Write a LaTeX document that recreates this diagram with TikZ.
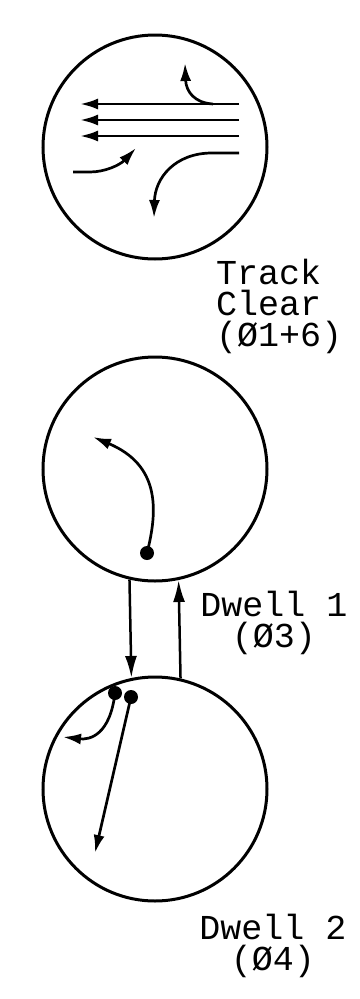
\documentclass[tikz,border=0pt]{standalone}
\usepackage{fontspec}
\newfontfamily\plotfont{Liberation Mono}
\usetikzlibrary{arrows.meta}
\begin{document}
\begin{tikzpicture}[x=1pt,y=-1pt,
  ring/.style={draw,circle,line width=3pt,minimum size=224pt,inner sep=0pt},
  flow/.style={line width=2.7pt,-{Latex[length=18pt,width=11pt]}},
  link/.style={line width=2.5pt,-{Latex[length=22pt,width=12pt]}},
  lbl/.style={inner sep=0pt,font=\plotfont\fontsize{35}{31}\selectfont},
  dot/.style={fill,circle,inner sep=0pt,minimum size=14pt}]
\useasboundingbox (0,0) rectangle (359,999);
% circles
\node[ring] (c1) at (155,147) {};
\node[ring] (c2) at (155,469) {};
\node[ring] (c3) at (155,789) {};
% circle 1 contents
\draw[flow] (239,104) -- (80,104);
\draw[flow] (239,120) -- (80,120);
\draw[flow] (239,136) -- (80,136);
\draw[flow] (213,104) .. controls (195,103) and (186,92) .. (185,63);
\draw[flow] (239,153) -- (212,153) .. controls (175,153) and (155,178) .. (154,218);
\draw[flow] (73,172) -- (90,172) .. controls (105,172) and (120,165) .. (136,148);
% circle 2 contents
\node[dot] (d1) at (147,553) {};
\draw[flow] (d1.center) .. controls (158,510) and (160,465) .. (93,437);
% circle 3 contents
\node[dot] (d2) at (115,693) {};
\node[dot] (d3) at (131,697) {};
\draw[flow] (d2.center) .. controls (110,735) and (90,740) .. (63,737);
\draw[flow] (d3.center) -- (95,853);
% links
\draw[link] (c2.257.6) -- (c3.102.4);
\draw[link] (c3.77.6) -- (c2.282.4);
% labels
\node[lbl,align=left,anchor=base west] (t1) at (216,346) {Track\\Clear\\(Ø1+6)};
\node[lbl,align=center,anchor=base] (u1) at (274,647) {Dwell 1\\(Ø3)};
\node[lbl,align=center,anchor=base] (v1) at (273,970) {Dwell 2\\(Ø4)};
\end{tikzpicture}
\end{document}
